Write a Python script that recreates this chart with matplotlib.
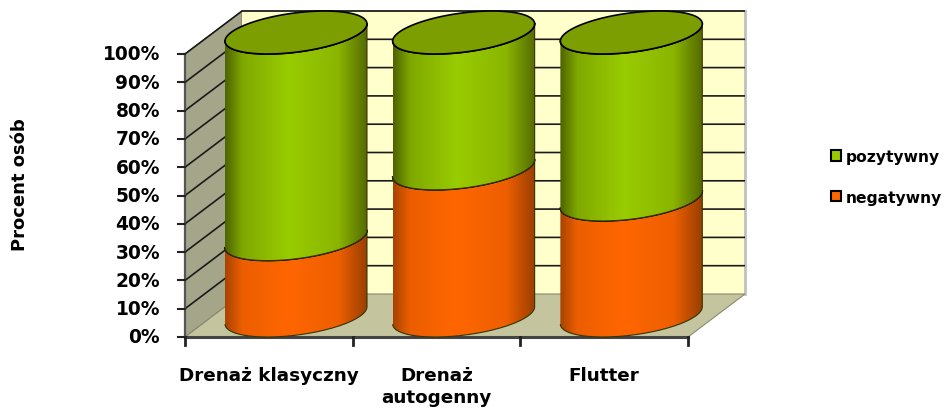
import numpy as np
import matplotlib
matplotlib.use("Agg")
from matplotlib import pyplot as plt
from matplotlib.colors import LinearSegmentedColormap
from matplotlib.patches import Patch, PathPatch, Polygon
from matplotlib.path import Path

categories = ["Drenaż klasyczny", "Drenaż\nautogenny", "Flutter"]
negatywny = [27, 52, 41]
pozytywny = [73, 48, 59]
y_ticks = [0, 10, 20, 30, 40, 50, 60, 70, 80, 90, 100]

# one category is 167.67 px wide, one percent is 2.83 px high
cat_px = 167.67
pct_px = 2.83
depth_x = 57 / cat_px
depth_y = 43 / pct_px
bar_w = 130 / cat_px

green = LinearSegmentedColormap.from_list("green", [(0, "#4e6200"), (0.12, "#7fa800"), (0.45, "#99cc00"), (0.8, "#8ab500"), (1, "#556b00")])
orange = LinearSegmentedColormap.from_list("orange", [(0, "#a84400"), (0.12, "#ec5e00"), (0.45, "#ff6600"), (0.8, "#ee5f00"), (1, "#9a3f00")])

fig = plt.figure(figsize=(9.46, 4.1), dpi=100)
ax = fig.add_axes([0, 0, 1, 1])
ax.set_axis_off()
xlim = (-185 / cat_px, (946 - 185) / cat_px)
ylim = (-(410 - 338) / pct_px, 338 / pct_px)


def ellipse_arc(cx, cy, start=np.pi, stop=2 * np.pi, n=80):
    # default range is the lower half of the tilted ellipse, seen from the front
    ux, vx, vy = bar_w / 2, depth_x / 2, depth_y / 2
    t0 = np.arctan2(vx, ux)
    t = np.linspace(t0 + start, t0 + stop, n)
    return cx + ux * np.cos(t) + vx * np.sin(t), cy + vy * np.sin(t)


def segment(cx, y0, y1, cmap, z):
    x_lo, y_lo = ellipse_arc(cx, y0 + depth_y / 2)
    x_hi, y_hi = ellipse_arc(cx, y1 + depth_y / 2)
    verts = np.column_stack([np.r_[x_lo, x_hi[::-1]], np.r_[y_lo, y_hi[::-1]]])
    patch = PathPatch(Path(verts), fc="none", ec="#333300", lw=0.8, zorder=z + 0.1)
    ax.add_patch(patch)
    w = np.hypot(bar_w / 2, depth_x / 2)
    grad = np.linspace(0, 1, 256)[None, :]
    im = ax.imshow(grad, cmap=cmap, extent=(cx - w, cx + w, y0 - 1, y1 + depth_y + 1), aspect="auto", zorder=z)
    im.set_clip_path(patch)
    ax.plot(x_hi, y_hi, color="black", lw=1.2, zorder=z + 0.2)


# walls and floor
ax.add_patch(Polygon([(0, 0), (depth_x, depth_y), (depth_x, 100 + depth_y), (0, 100)], fc="#a5a58a", ec="#77776a", lw=0.8, zorder=1))
ax.add_patch(Polygon([(depth_x, depth_y), (3 + depth_x, depth_y), (3 + depth_x, 100 + depth_y), (depth_x, 100 + depth_y)], fc="#ffffcc", ec="none", zorder=1))
ax.add_patch(Polygon([(0, 0), (3, 0), (3 + depth_x, depth_y), (depth_x, depth_y)], fc="#c4c49e", ec="#8a8a70", lw=0.8, zorder=2))
ax.plot([depth_x, 3 + depth_x], [100 + depth_y] * 2, color="#999988", lw=1.2, zorder=1.5)
ax.plot([3 + depth_x] * 2, [depth_y, 100 + depth_y], color="#c0c0c0", lw=2, zorder=1.5)

# gridlines along the left wall and the back wall
for v in y_ticks[1:]:
    ax.plot([0, depth_x, 3 + depth_x - 0.005], [v, v + depth_y, v + depth_y], color="#1a1a1a", lw=1.2, zorder=1.6)

# axis lines and tick marks
ax.plot([0, 3], [0, 0], color="#444444", lw=2.2, zorder=6)
ax.plot([0, 0], [0, 100], color="#555555", lw=1.6, zorder=6)
for v in y_ticks:
    ax.plot([-7 / cat_px, 0], [v, v], color="#222222", lw=1.5, zorder=6)
    ax.text(-25 / cat_px, v, "%d%%" % v, ha="right", va="center", fontsize=13.4, fontweight="bold", zorder=7)
for i in range(4):
    ax.plot([i, i], [0, -8 / pct_px], color="#222222", lw=2, zorder=6)

# stacked cylinders, left to right
for i, (neg, pos) in enumerate(zip(negatywny, pozytywny)):
    cx = i + 0.5 + depth_x / 2 - 0.008
    z = 10 + i
    segment(cx, 0, neg, orange, z)
    segment(cx, neg, neg + pos, green, z + 0.3)
    x_top, y_top = ellipse_arc(cx, neg + pos + depth_y / 2, 0, 2 * np.pi, 160)
    ax.fill(x_top, y_top, fc="#7d9e00", ec="black", lw=1.2, zorder=z + 0.6)
    ax.text(i + 0.5, -10.2, categories[i], ha="center", va="top", fontsize=13.2, fontweight="bold", linespacing=1.3, zorder=7)

ax.set_xlim(xlim)
ax.set_ylim(ylim)

fig.text(20 / 946, 1 - 185 / 410, "Procent osób", rotation=90, ha="center", va="center", fontsize=13, fontweight="bold")

handles = [Patch(fc="#99cc00", ec="black", lw=1.5), Patch(fc="#ff6600", ec="black", lw=1.5)]
fig.legend(handles, ["pozytywny", "negatywny"], loc="upper left", bbox_to_anchor=(831 / 946, 1 - 150 / 410),
           frameon=False, prop={"weight": "bold", "size": 11.2}, handlelength=0.62, handleheight=0.62,
           handletextpad=0.3, labelspacing=1.65, borderpad=0, borderaxespad=0)

plt.savefig("out.png", dpi=100)
